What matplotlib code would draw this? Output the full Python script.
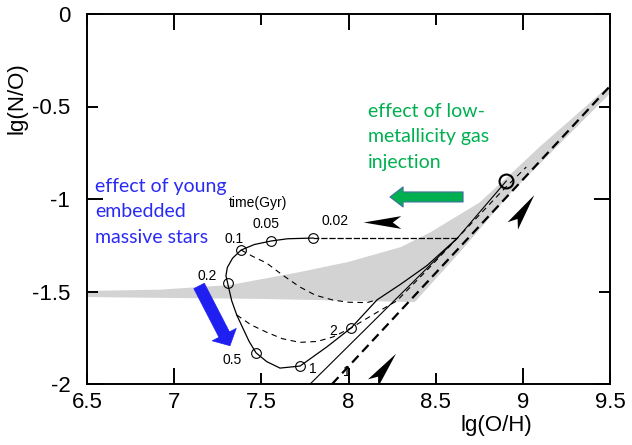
import numpy as np
import matplotlib
matplotlib.use('Agg')
from matplotlib import pyplot as plt
import matplotlib.ticker as ticker
from matplotlib.path import Path
from matplotlib.markers import MarkerStyle
from matplotlib.transforms import Affine2D

plt.rcParams['font.family'] = ['Liberation Sans', 'DejaVu Sans']
plt.rcParams['axes.unicode_minus'] = False

# grey band, upper and lower edge
band_up_x = [6.5, 6.92, 7.32, 7.72, 8.0, 8.30, 8.47, 8.75, 8.93, 9.1, 9.3, 9.5]
band_up_y = [-1.497, -1.49, -1.465, -1.395, -1.34, -1.26, -1.18, -1.02, -0.865, -0.715, -0.55, -0.384]
band_lo_x = [6.5, 7.0, 7.5, 8.0, 8.38, 8.65, 8.93, 9.5]
band_lo_y = [-1.53, -1.535, -1.54, -1.55, -1.557, -1.276, -0.968, -0.43]

# loop after gas injection (solid)
loop_x = [7.797, 7.65, 7.556, 7.46, 7.384, 7.335, 7.305, 7.297, 7.307, 7.33, 7.359, 7.395,
          7.43, 7.47, 7.531, 7.607, 7.722, 7.875, 8.015, 8.164, 8.30, 8.45, 8.625]
loop_y = [-1.211, -1.215, -1.227, -1.246, -1.276, -1.32, -1.37, -1.415, -1.456, -1.55, -1.627, -1.70,
          -1.77, -1.832, -1.879, -1.914, -1.903, -1.80, -1.697, -1.545, -1.46, -1.36, -1.211]
top_x = [8.625, 7.797]
top_y = [-1.211, -1.211]

# other model tracks
dashA_x = [7.384, 7.45, 7.53, 7.62, 7.72, 7.81, 7.91, 8.0, 8.106, 8.164]
dashA_y = [-1.276, -1.31, -1.346, -1.41, -1.475, -1.52, -1.546, -1.558, -1.56, -1.545]
dashB_x = [7.359, 7.44, 7.53, 7.62, 7.72, 7.82, 7.91, 8.015, 8.15, 8.278, 8.45, 8.625, 8.887, 9.02]
dashB_y = [-1.627, -1.68, -1.72, -1.755, -1.775, -1.77, -1.746, -1.697, -1.62, -1.55, -1.385, -1.211, -0.951, -0.827]
solid_x = [7.78, 8.625, 8.905]
solid_y = [-2.0, -1.211, -0.903]
thick_x = [7.906, 9.5]
thick_y = [-2.0, -0.39]

# time markers (Gyr)
t_labels = ['0.02', '0.05', '0.1', '0.2', '0.5', '1', '2']
t_x = [7.797, 7.556, 7.384, 7.307, 7.47, 7.722, 8.015]
t_y = [-1.211, -1.227, -1.276, -1.456, -1.832, -1.903, -1.697]
end_x, end_y = 8.905, -0.903

# direction arrowheads on the tracks
head_x = [8.19, 8.204, 9.0]
head_y = [-1.124, -1.914, -1.06]
head_ang = [180, 52, 55]

fig = plt.figure(figsize=(6.32, 4.45), dpi=100)
ax = fig.add_axes([87/632, 1-384/445, 523/632, 370/445])
ax.set_xlim(6.5, 9.5)
ax.set_ylim(-2, 0)

ax.fill(np.concatenate([band_up_x, band_lo_x[::-1]]),
        np.concatenate([band_up_y, band_lo_y[::-1]]),
        color='#d3d3d3', lw=0, zorder=1)

ax.plot(thick_x, thick_y, color='black', lw=1.6, dashes=(4.2, 2.4), zorder=3)
ax.plot(solid_x, solid_y, color='black', lw=0.8, zorder=3)
ax.plot(dashA_x, dashA_y, color='black', lw=0.8, dashes=(5, 4), zorder=3)
ax.plot(dashB_x, dashB_y, color='black', lw=0.8, dashes=(5, 4), zorder=3)
ax.plot(top_x, top_y, color='black', lw=0.9, dashes=(5, 1.5), zorder=3)
ax.plot(loop_x, loop_y, color='black', lw=0.9, zorder=3)

ax.plot(t_x, t_y, 'o', ms=7, mfc='none', mec='black', mew=0.8, zorder=4)
ax.plot(end_x, end_y, 'o', ms=10, mfc='none', mec='black', mew=1.5, zorder=4)

offsets = [(16, 12), (-4, 12), (-5, 8), (-15, 5), (-17, -5), (9, -2), (-13, -2)]
for lab, x, y, off in zip(t_labels, t_x, t_y, offsets):
    ax.annotate(lab, (x, y), xytext=off, textcoords='offset points',
                ha='center', va='center', fontsize=10)
ax.text(7.48, -1.022, 'time(Gyr)', ha='center', va='center', fontsize=10)
ax.text(7.992, -1.935, '1', ha='center', va='center', fontsize=10)

stealth = Path([(1, 0), (-1, 0.34), (-0.55, 0), (-1, -0.34), (1, 0)],
               [Path.MOVETO, Path.LINETO, Path.LINETO, Path.LINETO, Path.CLOSEPOLY])
for x, y, a in zip(head_x, head_y, head_ang):
    m = MarkerStyle(stealth, transform=Affine2D().rotate_deg(a))
    ax.plot(x, y, marker=m, ms=27, color='black', mew=0, zorder=5)

# blue and green arrows
ax.annotate('', xy=(7.32, -1.793), xytext=(7.143, -1.47),
            arrowprops=dict(arrowstyle='simple,head_length=0.9,head_width=1.95,tail_width=0.85',
                            mutation_scale=10, fc='#1f1ff2', ec='#1f1ff2', lw=0.5,
                            shrinkA=0, shrinkB=0), zorder=6)
ax.annotate('', xy=(8.238, -0.989), xytext=(8.657, -0.989),
            arrowprops=dict(arrowstyle='simple,head_length=0.94,head_width=1.44,tail_width=0.72',
                            mutation_scale=10, fc='#00B050', ec='#41719C', lw=0.8,
                            shrinkA=0, shrinkB=0), zorder=6)

ax.text(6.546, -0.886, 'effect of young\nembedded\nmassive stars', color='#2a2af5',
        family=['Lato', 'DejaVu Sans'], fontsize=14, va='top', ha='left', linespacing=1.6)
ax.text(8.112, -0.481, 'effect of low-\nmetallicity gas\ninjection', color='#00B050',
        family=['Lato', 'DejaVu Sans'], fontsize=14, va='top', ha='left', linespacing=1.6)

# axes style
for s in ax.spines.values():
    s.set_linewidth(1.4)
ax.xaxis.set_major_locator(ticker.MultipleLocator(1))
ax.xaxis.set_minor_locator(ticker.FixedLocator([6.5, 7.5, 8.5, 9.5]))
ax.yaxis.set_major_locator(ticker.MultipleLocator(1))
ax.yaxis.set_minor_locator(ticker.FixedLocator([-0.5, -1.5]))
ax.xaxis.set_major_formatter(ticker.FormatStrFormatter('%g'))
ax.xaxis.set_minor_formatter(ticker.FormatStrFormatter('%g'))
ax.yaxis.set_major_formatter(ticker.FormatStrFormatter('%g'))
ax.yaxis.set_minor_formatter(ticker.FormatStrFormatter('%g'))
ax.tick_params(which='both', direction='in', top=True, right=True, width=1.4, labelsize=16)
ax.tick_params(which='major', length=11.5)
ax.tick_params(which='minor', length=8)
ax.tick_params(axis='x', which='both', pad=6)
ax.tick_params(axis='y', which='both', pad=12)

ax.text(-0.134, 0.773, 'lg(N/O)', transform=ax.transAxes, rotation=90,
        ha='center', va='center', fontsize=16)
ax.text(0.782, -0.112, 'lg(O/H)', transform=ax.transAxes,
        ha='center', va='center', fontsize=16)

fig.savefig('out.png', dpi=100)
